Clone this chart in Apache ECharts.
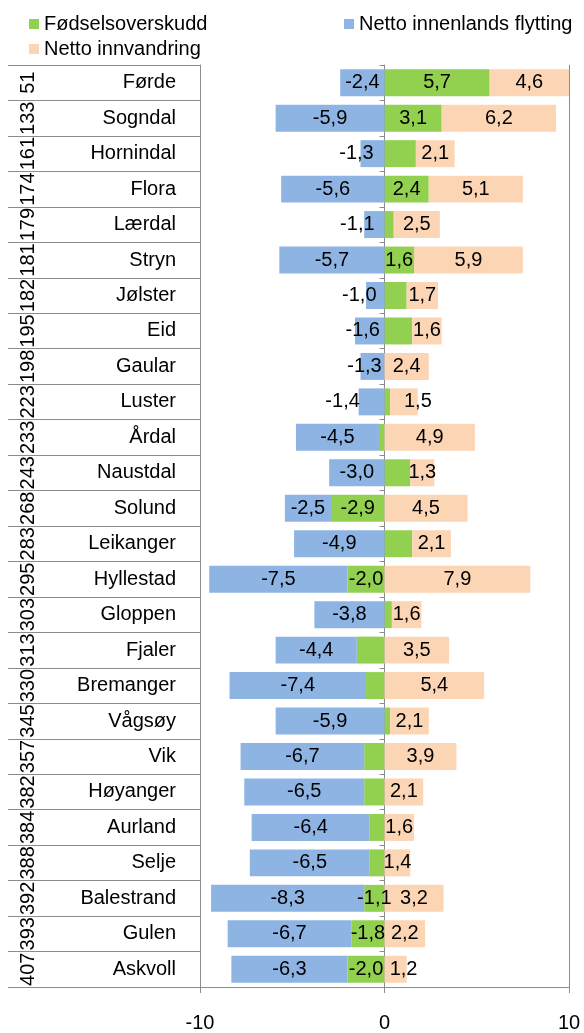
<!DOCTYPE html>
<html><head><meta charset="utf-8">
<script src="https://cdn.jsdelivr.net/npm/echarts@6/dist/echarts.min.js"></script>
<style>html,body{margin:0;padding:0;background:#fff}#c{width:584px;height:1033px}</style>
</head><body><div id="c"></div>
<script>
const municipalities = ['Førde','Sogndal','Hornindal','Flora','Lærdal','Stryn','Jølster','Eid','Gaular','Luster','Årdal','Naustdal','Solund','Leikanger','Hyllestad','Gloppen','Fjaler','Bremanger','Vågsøy','Vik','Høyanger','Aurland','Selje','Balestrand','Gulen','Askvoll'];
const ranks = ['51','133','161','174','179','181','182','195','198','223','233','243','268','283','295','303','313','330','345','357','382','384','388','392','393','407'];
const birthSurplus = [5.7,3.1,1.7,2.4,0.5,1.6,1.2,1.5,0,0.3,-0.3,1.4,-2.9,1.5,-2.0,0.4,-1.5,-1.0,0.3,-1.1,-1.1,-0.8,-0.8,-1.1,-1.8,-2.0];
const domesticMigration = [-2.4,-5.9,-1.3,-5.6,-1.1,-5.7,-1.0,-1.6,-1.3,-1.4,-4.5,-3.0,-2.5,-4.9,-7.5,-3.8,-4.4,-7.4,-5.9,-6.7,-6.5,-6.4,-6.5,-8.3,-6.7,-6.3];
const immigration = [4.6,6.2,2.1,5.1,2.5,5.9,1.7,1.6,2.4,1.5,4.9,1.3,4.5,2.1,7.9,1.6,3.5,5.4,2.1,3.9,2.1,1.6,1.4,3.2,2.2,1.2];
const seriesNames = ['Fødselsoverskudd','Netto innenlands flytting','Netto innvandring'];

const FONT = '"Liberation Sans", Arial, sans-serif';
const fmt = v => v.toFixed(1).replace('.', ',');
const greenLabelled = new Set(['Førde','Sogndal','Flora','Stryn','Solund','Hyllestad','Balestrand','Gulen','Askvoll']);
const blueShift = {'Hornindal':-16,'Lærdal':-17,'Jølster':-16,'Eid':-7,'Gaular':-8,'Luster':-29};
const peachShift = {'Luster':14,'Askvoll':8};

function items(values, showFn, shift) {
  return values.map((v, i) => {
    const n = municipalities[i];
    const it = {value: v};
    const lab = {};
    if (showFn && !showFn(n)) lab.show = false;
    if (shift && shift[n]) lab.offset = [shift[n], 0];
    if (Object.keys(lab).length) it.label = lab;
    return it;
  });
}

const labelStyle = {show: true, position: 'inside', fontSize: 20, color: '#000', fontFamily: FONT,
  formatter: p => fmt(p.value)};
const gray = '#8c8c8c';

const chart = echarts.init(document.getElementById('c'));
chart.setOption({
  animation: false,
  textStyle: {fontFamily: FONT},
  grid: {left: 200, right: 15, top: 65, bottom: 42, containLabel: false},
  legend: [
    {data: [seriesNames[0], seriesNames[2]], orient: 'vertical', left: 24, top: 8, itemWidth: 10, itemHeight: 10, itemGap: 3, icon: 'rect',
     textStyle: {fontSize: 20, lineHeight: 22, color: '#000', fontFamily: FONT}},
    {data: [seriesNames[1]], orient: 'vertical', left: 339, top: 8, itemWidth: 10, itemHeight: 10, icon: 'rect',
     textStyle: {fontSize: 20, lineHeight: 22, color: '#000', fontFamily: FONT}}
  ],
  xAxis: {
    type: 'value', min: -10, max: 10, interval: 10,
    axisLine: {show: true, onZero: false, lineStyle: {color: gray}},
    axisTick: {show: true, length: 6, lineStyle: {color: gray}},
    splitLine: {show: true, lineStyle: {color: gray}},
    axisLabel: {fontSize: 20, margin: 26, color: '#000', fontFamily: FONT, formatter: v => String(v)}
  },
  yAxis: [
    {type: 'category', data: municipalities, inverse: true,
     axisLine: {show: true, onZero: true, lineStyle: {color: gray}},
     axisTick: {show: true, length: 5, lineStyle: {color: gray}},
     axisLabel: {show: false}},
    {type: 'category', data: municipalities, inverse: true, position: 'left',
     axisLine: {show: true, onZero: false, lineStyle: {color: gray}},
     axisTick: {show: true, length: 192, lineStyle: {color: gray}},
     axisLabel: {interval: 0, margin: 24, fontSize: 20, color: '#000', fontFamily: FONT}},
    {type: 'category', data: ranks, inverse: true, position: 'left',
     axisLine: {show: false}, axisTick: {show: false},
     axisLabel: {interval: 0, rotate: 90, margin: 162, fontSize: 20, color: '#000', fontFamily: FONT}}
  ],
  series: [
    {name: seriesNames[0], type: 'bar', stack: 'a', barCategoryGap: '24%', itemStyle: {color: '#92D050'},
     label: labelStyle, data: items(birthSurplus, n => greenLabelled.has(n), null)},
    {name: seriesNames[1], type: 'bar', stack: 'a', barCategoryGap: '24%', itemStyle: {color: '#8EB4E3'},
     label: labelStyle, data: items(domesticMigration, null, blueShift)},
    {name: seriesNames[2], type: 'bar', stack: 'a', barCategoryGap: '24%', itemStyle: {color: '#FCD5B5'},
     label: labelStyle, data: items(immigration, null, peachShift)}
  ]
});
</script></body></html>
